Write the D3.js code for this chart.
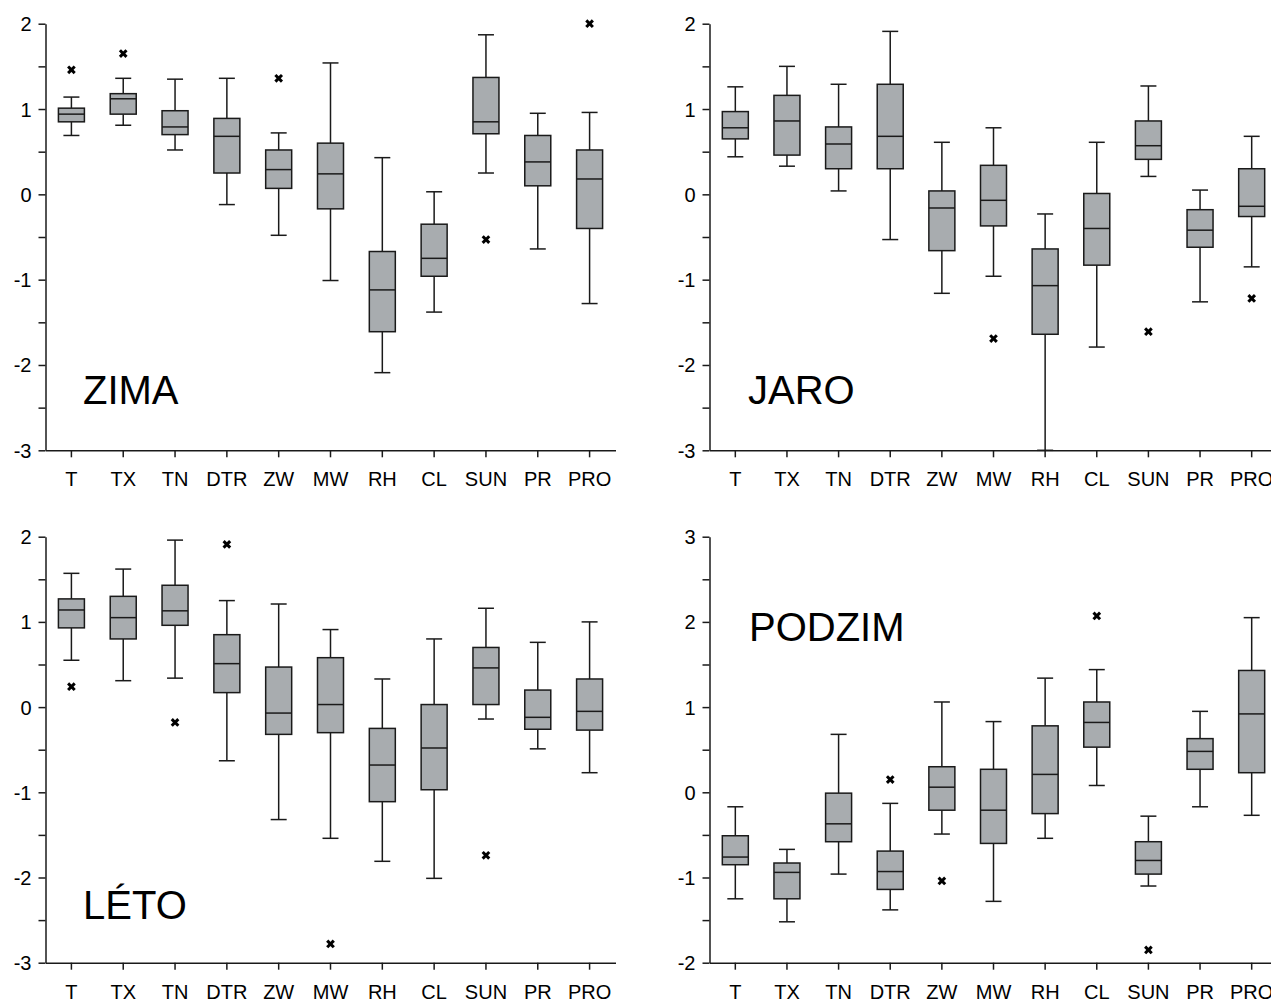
<!DOCTYPE html>
<html><head><meta charset="utf-8">
<script src="https://cdn.jsdelivr.net/npm/d3@7"></script>
<style>
body{margin:0;background:#fff;}
svg{display:block;font-family:"Liberation Sans",Arial,Helvetica,sans-serif;}
</style></head>
<body><svg id="c" width="1271" height="1003"></svg>
<script>
const categories = ["T","TX","TN","DTR","ZW","MW","RH","CL","SUN","PR","PRO"];
const panelTitles = ["ZIMA","JARO","LÉTO","PODZIM"];
const yDomains = [[-3,2],[-3,2],[-3,2],[-2,3]];
const yTickLabels = [["-3","-2","-1","0","1","2"],["-3","-2","-1","0","1","2"],["-3","-2","-1","0","1","2"],["-2","-1","0","1","2","3"]];

// each row: [lowerWhisker, Q1, median, Q3, upperWhisker] per category
const zimaStats = [
 [0.69,0.85,0.94,1.01,1.14],[0.81,0.94,1.12,1.18,1.36],[0.52,0.70,0.79,0.98,1.35],[-0.12,0.25,0.68,0.89,1.36],
 [-0.48,0.07,0.29,0.52,0.72],[-1.01,-0.17,0.24,0.60,1.54],[-2.09,-1.61,-1.12,-0.67,0.43],[-1.38,-0.96,-0.75,-0.35,0.03],
 [0.25,0.71,0.85,1.37,1.87],[-0.64,0.10,0.38,0.69,0.95],[-1.28,-0.40,0.18,0.52,0.96]];
const zimaOutliers = [[1.46],[1.65],[],[],[1.36],[],[],[],[-0.53],[],[2.0]];

const jaroStats = [
 [0.44,0.65,0.78,0.97,1.26],[0.33,0.46,0.86,1.16,1.50],[0.04,0.30,0.59,0.79,1.29],[-0.53,0.30,0.68,1.29,1.91],
 [-1.16,-0.66,-0.16,0.04,0.61],[-0.96,-0.37,-0.07,0.34,0.78],[-3.0,-1.64,-1.07,-0.64,-0.23],[-1.79,-0.83,-0.40,0.01,0.61],
 [0.21,0.41,0.57,0.86,1.27],[-1.26,-0.62,-0.42,-0.18,0.05],[-0.85,-0.26,-0.14,0.30,0.68]];
const jaroOutliers = [[],[],[],[],[],[-1.69],[],[],[-1.61],[],[-1.22]];

const letoStats = [
 [0.55,0.93,1.14,1.27,1.57],[0.31,0.80,1.05,1.30,1.62],[0.34,0.96,1.13,1.43,1.96],[-0.63,0.17,0.51,0.85,1.25],
 [-1.32,-0.32,-0.07,0.47,1.21],[-1.54,-0.30,0.03,0.58,0.91],[-1.81,-1.11,-0.68,-0.25,0.33],[-2.01,-0.97,-0.48,0.03,0.80],
 [-0.14,0.03,0.46,0.70,1.16],[-0.49,-0.26,-0.12,0.20,0.76],[-0.77,-0.27,-0.05,0.33,1.00]];
const letoOutliers = [[0.24],[],[-0.18],[1.91],[],[-2.78],[],[],[-1.74],[],[]];

const podzimStats = [
 [-1.25,-0.85,-0.76,-0.51,-0.17],[-1.52,-1.25,-0.94,-0.83,-0.67],[-0.96,-0.58,-0.37,-0.01,0.68],[-1.38,-1.14,-0.93,-0.69,-0.13],
 [-0.49,-0.21,0.06,0.30,1.06],[-1.28,-0.60,-0.21,0.27,0.83],[-0.54,-0.25,0.21,0.78,1.34],[0.08,0.53,0.82,1.06,1.44],
 [-1.10,-0.96,-0.80,-0.58,-0.28],[-0.17,0.27,0.48,0.63,0.95],[-0.27,0.23,0.92,1.43,2.05]];
const podzimOutliers = [[],[],[],[0.15],[-1.04],[],[],[2.07],[-1.85],[],[]];

const panelStats = [zimaStats, jaroStats, letoStats, podzimStats];
const panelOutliers = [zimaOutliers, jaroOutliers, letoOutliers, podzimOutliers];

const svg = d3.select("#c");
const panelBoxes = [
  {x0:45.5, x1:615.5, yTop:23.7, yBot:450.3, title:[83,404]},
  {x0:709.5, x1:1277.5, yTop:23.7, yBot:450.3, title:[748,404]},
  {x0:45.5, x1:615.5, yTop:536.7, yBot:962.7, title:[83,919]},
  {x0:709.5, x1:1277.5, yTop:536.7, yBot:962.7, title:[749,641]}
];
const stroke = "#1a1a1a";
const fill = "#a8acaf";

panelBoxes.forEach((p, i) => {
  const g = svg.append("g");
  const x = d3.scaleBand().domain(categories).range([p.x0, p.x1]).paddingInner(0).paddingOuter(0);
  const dom = yDomains[i];
  const y = d3.scaleLinear().domain(dom).range([p.yBot, p.yTop]);
  const halfTicks = d3.range(dom[0], dom[1] + 0.001, 0.5);
  const labels = yTickLabels[i];

  const yAxis = d3.axisLeft(y).tickValues(halfTicks).tickSize(7).tickSizeOuter(0).tickPadding(7)
    .tickFormat(v => Number.isInteger(v) ? labels[v - dom[0]] : "");
  const ya = g.append("g").attr("transform", `translate(${p.x0},0)`).call(yAxis);
  const xAxis = d3.axisBottom(x).tickSize(7).tickSizeOuter(0).tickPadding(15);
  const xa = g.append("g").attr("transform", `translate(0,${p.yBot})`).call(xAxis);
  [ya, xa].forEach(a => {
    a.selectAll("path, line").attr("stroke", stroke).attr("stroke-width", 1.5);
    a.selectAll("text").attr("font-size", 20).attr("fill", "#000")
      .attr("font-family", "'Liberation Sans', Arial, sans-serif");
  });
  ya.selectAll("text").attr("dy", "0.35em");

  const bw = 26, cw = 16;
  const data = panelStats[i].map((s, k) => ({cat: categories[k], s, out: panelOutliers[i][k]}));
  const bg = g.append("g");
  data.forEach(d => {
    const cx = x(d.cat) + x.bandwidth() / 2;
    const [lo, q1, med, q3, hi] = d.s;
    const w = bg.append("g").attr("stroke", stroke).attr("stroke-width", 1.5);
    w.append("line").attr("x1", cx).attr("x2", cx).attr("y1", y(hi)).attr("y2", y(q3));
    w.append("line").attr("x1", cx).attr("x2", cx).attr("y1", y(q1)).attr("y2", y(lo));
    w.append("line").attr("x1", cx - cw/2).attr("x2", cx + cw/2).attr("y1", y(hi)).attr("y2", y(hi));
    w.append("line").attr("x1", cx - cw/2).attr("x2", cx + cw/2).attr("y1", y(lo)).attr("y2", y(lo));
    w.append("rect").attr("x", cx - bw/2).attr("y", y(q3)).attr("width", bw).attr("height", y(q1) - y(q3))
      .attr("fill", fill);
    w.append("line").attr("x1", cx - bw/2).attr("x2", cx + bw/2).attr("y1", y(med)).attr("y2", y(med));
    d.out.forEach(o => {
      const oy = y(o), r = 3.3;
      const m = bg.append("g").attr("stroke", "#000").attr("stroke-width", 3).attr("stroke-linecap", "butt");
      m.append("line").attr("x1", cx - r).attr("x2", cx + r).attr("y1", oy - r).attr("y2", oy + r);
      m.append("line").attr("x1", cx - r).attr("x2", cx + r).attr("y1", oy + r).attr("y2", oy - r);
    });
  });

  g.append("text").attr("x", p.title[0]).attr("y", p.title[1]).attr("font-size", 40)
    .attr("fill", "#000").text(panelTitles[i]);
});
</script></body></html>
